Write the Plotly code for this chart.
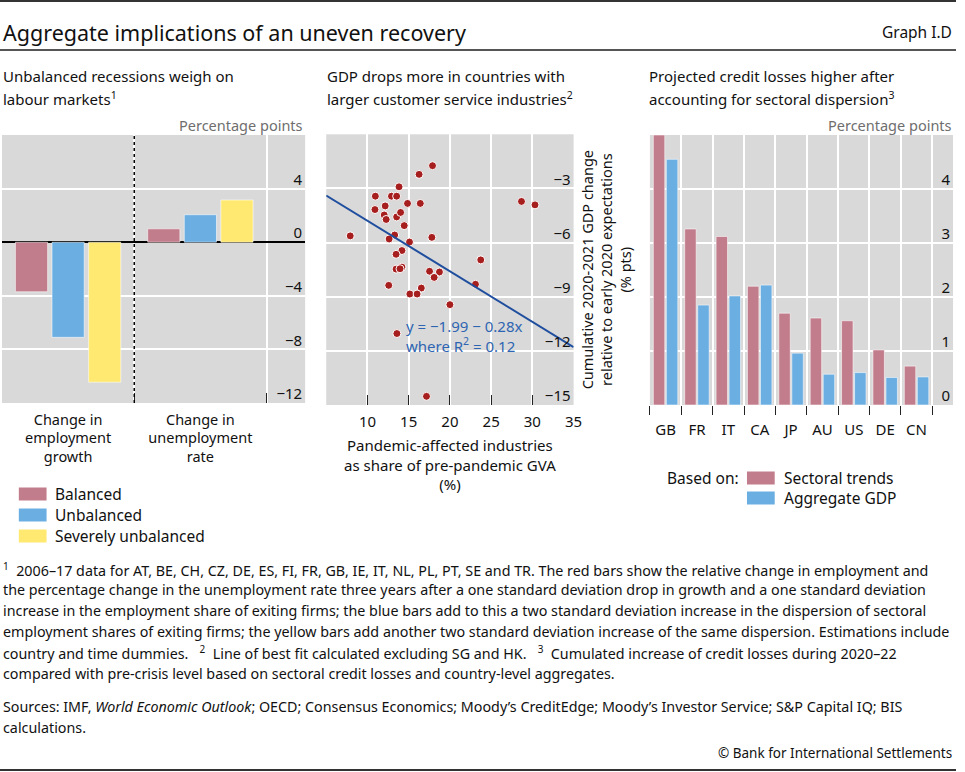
import plotly.graph_objects as go

W, H = 965, 772
FONT = "Noto Sans"

# ---------------- data ----------------
# Panel 1: labour markets
p1_categories = ["Change in<br>employment<br>growth", "Change in<br>unemployment<br>rate"]
p1_series = ["Balanced", "Unbalanced", "Severely unbalanced"]
p1_balanced = [-3.7, 1.0]
p1_unbalanced = [-7.1, 2.05]
p1_severe = [-10.45, 3.15]
p1_yticks = [4, 0, -4, -8, -12]

# Panel 2: GDP drops vs pandemic-affected share
p2_share = [17.89, 16.26, 13.83, 10.96, 12.91, 13.54, 12.15, 14.86, 16.41, 10.91,
            12.03, 12.27, 13.54, 14.02, 14.46, 13.30, 12.63, 15.10, 17.81, 14.18,
            13.47, 14.18, 13.47, 13.95, 17.53, 18.73, 18.09, 12.58, 16.53, 15.14,
            16.02, 20.00, 13.57, 17.16, 23.74, 23.10, 7.91, 28.68, 30.32]
p2_gdp = [-1.74, -2.22, -2.91, -3.43, -3.43, -3.43, -3.97, -3.83, -3.83, -4.17,
          -4.47, -4.72, -4.58, -4.33, -5.06, -5.58, -5.80, -5.97, -5.71, -6.44,
          -6.65, -7.36, -7.47, -7.45, -7.59, -7.63, -7.93, -8.37, -8.52, -8.85,
          -8.85, -9.44, -11.04, -14.52, -6.96, -8.31, -5.63, -3.72, -3.91]
fit_intercept = -1.99
fit_slope = -0.28
fit_r2 = 0.12
p2_xticks = [5, 10, 15, 20, 25, 30, 35]
p2_xticklabels = ["", "10", "15", "20", "25", "30", "35"]
p2_yticks = [-3, -6, -9, -12, -15]

# Panel 3: projected credit losses
p3_countries = ["GB", "FR", "IT", "CA", "JP", "AU", "US", "DE", "CN"]
p3_series = ["Sectoral trends", "Aggregate GDP"]
p3_sectoral = [5.0, 3.26, 3.12, 2.20, 1.70, 1.61, 1.56, 1.02, 0.72]
p3_aggregate = [4.55, 1.85, 2.02, 2.22, 0.96, 0.57, 0.60, 0.51, 0.52]
p3_yticks = [0, 1, 2, 3, 4]

# ---------------- styles ----------------
C_RED = "#C27D8C"
C_BLUE = "#6AAEE2"
C_YELLOW = "#FFE971"
C_BG = "#D9D9D9"
C_DOT = "#A61E1E"
C_FIT = "#1F4E9E"
C_FITTXT = "#2E65B2"
C_GREY_TXT = "#6E6E6E"


def px(x):
    return x / W


def py(y):
    return 1 - y / H


fig = go.Figure()

bar_line = dict(color="rgba(255,255,255,0.55)", width=1)

# Panel 1 bars
for name, vals, col in zip(p1_series, [p1_balanced, p1_unbalanced, p1_severe],
                           [C_RED, C_BLUE, C_YELLOW]):
    fig.add_trace(go.Bar(x=p1_categories, y=vals, name=name, marker_color=col,
                         marker_line=bar_line, xaxis="x", yaxis="y", showlegend=False))

# Panel 2 scatter + fit
fig.add_trace(go.Scatter(x=p2_share, y=p2_gdp, mode="markers", xaxis="x2", yaxis="y2",
                         marker=dict(color=C_DOT, size=8, line=dict(color="white", width=1)),
                         showlegend=False))
fit_x = [p2_xticks[0], p2_xticks[-1]]
fit_y = [fit_intercept + fit_slope * v for v in fit_x]
fig.add_trace(go.Scatter(x=fit_x, y=fit_y, mode="lines", xaxis="x2", yaxis="y2",
                         line=dict(color=C_FIT, width=2), showlegend=False))

# Panel 3 bars
for name, vals, col in zip(p3_series, [p3_sectoral, p3_aggregate], [C_RED, C_BLUE]):
    fig.add_trace(go.Bar(x=p3_countries, y=vals, name=name, marker_color=col,
                         marker_line=bar_line, xaxis="x3", yaxis="y3", showlegend=False))

tickfont = dict(family=FONT, size=15, color="#111")
common_y = dict(side="right", ticklabelposition="inside", ticks="", showgrid=True,
                gridcolor="white", gridwidth=1.5, tickfont=tickfont, showline=False,
                ticklabelshift=-9, ticklabeloverflow="allow", fixedrange=True)

fig.update_layout(
    width=W, height=H,
    margin=dict(l=0, r=0, t=0, b=0),
    paper_bgcolor="white",
    plot_bgcolor=C_BG,
    font=dict(family=FONT, color="#111"),
    barmode="group", bargap=0.17, bargroupgap=0.12,
    showlegend=False,
    xaxis=dict(domain=[px(2), px(308)], anchor="y", type="category",
               range=[-0.5, 1.792], tickson="boundaries", ticks="inside", ticklen=10,
               tickcolor="#222", tickwidth=1.2, showgrid=True, gridcolor="white",
               gridwidth=1.5, tickfont=dict(family=FONT, size=14.5, color="#111"),
               ticklabelstandoff=6, showline=False, zeroline=False, fixedrange=True),
    yaxis=dict(domain=[py(403), py(135)], anchor="x", range=[-12, 8],
               tickvals=p1_yticks, zeroline=True, zerolinecolor="black",
               zerolinewidth=1.6, **common_y),
    xaxis2=dict(domain=[px(329.3), px(579)], anchor="y2", range=[5, 35],
                tickvals=p2_xticks, ticktext=p2_xticklabels, ticks="inside", ticklen=10,
                tickcolor="#222", tickwidth=1.2, showgrid=True, gridcolor="white",
                gridwidth=1.5, tickfont=tickfont, ticklabelstandoff=6,
                zeroline=False, showline=False, fixedrange=True,
                title=dict(text="Pandemic-affected industries<br>as share of pre-pandemic GVA<br>(%)",
                           font=dict(family=FONT, size=15, color="#111"), standoff=10)),
    yaxis2=dict(domain=[py(405), py(134.3)], anchor="x2", range=[-15, 0],
                tickvals=p2_yticks, zeroline=False,
                title=dict(text="Cumulative 2020-2021 GDP change<br>relative to early 2020 expectations<br>(% pts)",
                           font=dict(family=FONT, size=14.5, color="#111"), standoff=13),
                **common_y),
    xaxis3=dict(domain=[px(656), px(962)], anchor="y3", type="category",
                range=[-0.5, 9.163], tickson="boundaries", ticks="outside", ticklen=9,
                tickcolor="#222", tickwidth=1.2, showgrid=True, gridcolor="white",
                gridwidth=1.5, tickfont=tickfont, ticklabelstandoff=14,
                showline=False, zeroline=False, fixedrange=True),
    yaxis3=dict(domain=[py(405), py(135)], anchor="x3", range=[0, 5],
                tickvals=p3_yticks, zeroline=False, **common_y),
)

# dotted separator in panel 1
fig.add_shape(type="line", xref="x", yref="y domain", x0=0.5, x1=0.5, y0=0, y1=1,
              line=dict(color="black", width=1.5, dash="dot"))

ann = []


def text(x, y, s, size=15, color="#111", xanchor="left", **kw):
    ann.append(dict(x=px(x), y=py(y), xref="paper", yref="paper", text=s, showarrow=False,
                    xanchor=xanchor, yanchor="middle",
                    font=dict(family=FONT, size=size, color=color), **kw))


# header
text(1, 32, "Aggregate implications of an uneven recovery", size=21.5)
text(963, 32, "Graph I.D", size=15.5, xanchor="right")
# panel titles
text(1, 76, "Unbalanced recessions weigh on", size=15)
text(1, 98, "labour markets<sup>1</sup>", size=15)
text(328, 76, "GDP drops more in countries with", size=15)
text(328, 98, "larger customer service industries<sup>2</sup>", size=15)
text(653, 76, "Projected credit losses higher after", size=15)
text(653, 98, "accounting for sectoral dispersion<sup>3</sup>", size=15)
text(308, 125, "Percentage points", size=14.5, color=C_GREY_TXT, xanchor="right")
text(963, 125, "Percentage points", size=14.5, color=C_GREY_TXT, xanchor="right")

# regression equation
eq = (f"y = \u2212{abs(fit_intercept):.2f} \u2212 {abs(fit_slope):.2f}x<br>"
      f"where R<sup>2</sup> = {fit_r2:.2f}")
ann.append(dict(x=px(408), y=py(336), xref="paper", yref="paper", text=eq, showarrow=False,
                xanchor="left", yanchor="middle", align="left",
                font=dict(family=FONT, size=15, color=C_FITTXT)))

# legends (swatches as shapes + labels)
for i, (name, col) in enumerate(zip(p1_series, [C_RED, C_BLUE, C_YELLOW])):
    yc = 494 + 21 * i
    fig.add_shape(type="rect", xref="paper", yref="paper", x0=px(19), x1=px(47),
                  y0=py(yc + 6.5), y1=py(yc - 6.5), fillcolor=col, line=dict(width=0))
    text(54, yc, name, size=15.5)

text(748, 478, "Based on:", size=15.5, xanchor="right")
for i, (name, col) in enumerate(zip(p3_series, [C_RED, C_BLUE])):
    yc = 478 + 20 * i
    fig.add_shape(type="rect", xref="paper", yref="paper", x0=px(754), x1=px(782),
                  y0=py(yc + 6.5), y1=py(yc - 6.5), fillcolor=col, line=dict(width=0))
    text(789, yc, name, size=15.5)

# footnotes
foot = [
    "<sup>1</sup>\u00a0 2006\u201317 data for AT, BE, CH, CZ, DE, ES, FI, FR, GB, IE, IT, NL, PL, PT, SE and TR. The red bars show the relative change in employment and",
    "the percentage change in the unemployment rate three years after a one standard deviation drop in growth and a one standard deviation",
    "increase in the employment share of exiting firms; the blue bars add to this a two standard deviation increase in the dispersion of sectoral",
    "employment shares of exiting firms; the yellow bars add another two standard deviation increase of the same dispersion. Estimations include",
    "country and time dummies.\u00a0\u00a0 <sup>2</sup>\u00a0 Line of best fit calculated excluding SG and HK.\u00a0\u00a0 <sup>3</sup>\u00a0 Cumulated increase of credit losses during 2020\u201322",
    "compared with pre-crisis level based on sectoral credit losses and country-level aggregates.",
]
for i, line in enumerate(foot):
    text(1, 569 + 20.8 * i, line, size=14.3)
text(1, 706, "Sources: IMF, <i>World Economic Outlook</i>; OECD; Consensus Economics; Moody\u2019s CreditEdge; Moody\u2019s Investor Service; S&P Capital IQ; BIS", size=14.3)
text(1, 727, "calculations.", size=14.3)
text(963, 753, "\u00a9 Bank for International Settlements", size=13.5, xanchor="right")

fig.update_layout(annotations=ann)

# rules
for yy, col, wd in [(1, "#333333", 2), (50, "#555555", 2), (770, "#333333", 2)]:
    fig.add_shape(type="line", xref="paper", yref="paper", x0=0, x1=1, y0=py(yy), y1=py(yy),
                  line=dict(color=col, width=wd))

fig.write_html("out.html", config={"displayModeBar": False, "staticPlot": False},
               post_script="document.body.style.margin='0';document.body.style.padding='0';")
